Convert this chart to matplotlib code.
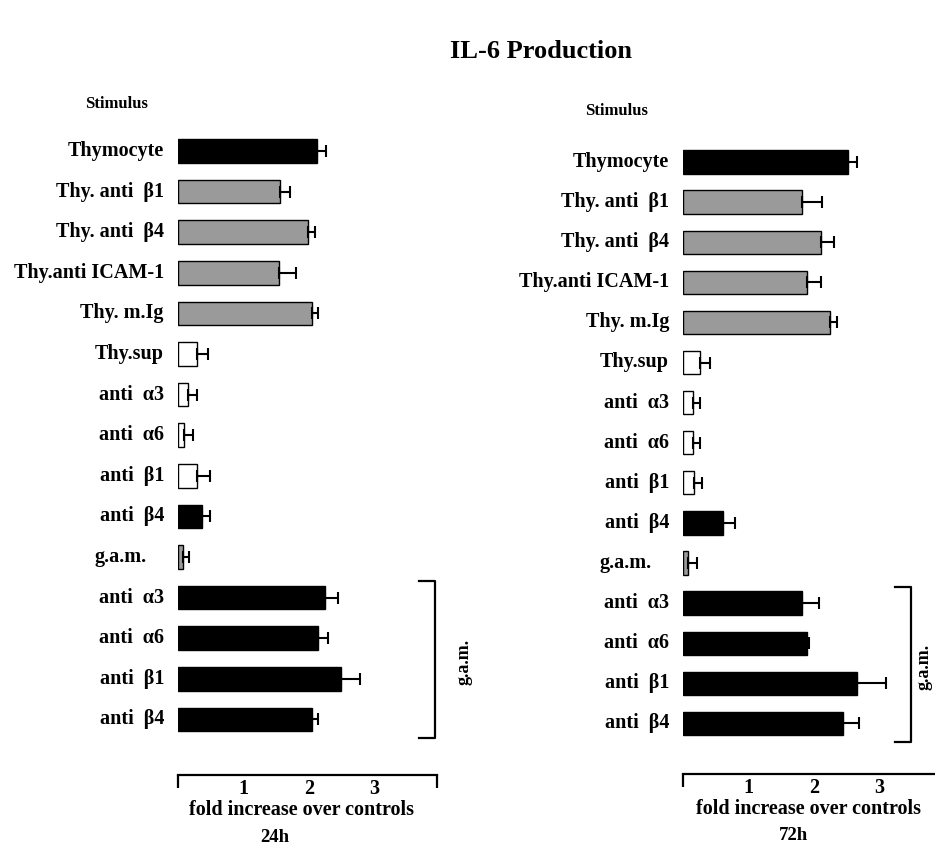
import numpy as np
import matplotlib
matplotlib.use("Agg")
import matplotlib.pyplot as plt

plt.rcParams['font.family'] = ['Liberation Serif', 'DejaVu Serif']
plt.rcParams['font.weight'] = 'bold'

# stimulus rows (top to bottom)
stimuli = ['Thymocyte', 'Thy. anti  \u03b21', 'Thy. anti  \u03b24', 'Thy.anti ICAM-1',
           'Thy. m.Ig', 'Thy.sup', 'anti  \u03b13', 'anti  \u03b16', 'anti  \u03b21',
           'anti  \u03b24', 'g.a.m.', 'anti  \u03b13', 'anti  \u03b16', 'anti  \u03b21',
           'anti  \u03b24']
# kind of stimulus, used for the bar fill
kinds = ['thy', 'thy_ab', 'thy_ab', 'thy_ab', 'thy_ab', 'sup', 'ab', 'ab', 'ab',
         'ab_b4', 'gam', 'ab_gam', 'ab_gam', 'ab_gam', 'ab_gam']
# rows cross-linked with g.a.m.
gam_rows = [11, 12, 13, 14]

# fold increase over controls, 24h
fold_24h = [2.12, 1.56, 1.98, 1.54, 2.04, 0.29, 0.15, 0.09, 0.29, 0.37, 0.07,
            2.24, 2.14, 2.49, 2.04]
err_24h = [0.14, 0.15, 0.11, 0.26, 0.10, 0.17, 0.14, 0.14, 0.20, 0.12, 0.10,
           0.20, 0.15, 0.29, 0.10]
# fold increase over controls, 72h
fold_72h = [2.52, 1.82, 2.11, 1.90, 2.24, 0.26, 0.15, 0.15, 0.17, 0.61, 0.08,
            1.82, 1.89, 2.66, 2.44]
err_72h = [0.14, 0.30, 0.20, 0.20, 0.11, 0.15, 0.11, 0.11, 0.12, 0.18, 0.13,
           0.26, 0.03, 0.44, 0.25]

fill = {'thy': 'black', 'thy_ab': '#9a9a9a', 'sup': 'white', 'ab': 'white',
        'ab_b4': 'black', 'gam': '#9a9a9a', 'ab_gam': 'black'}

W, H = 935, 848
fig = plt.figure(figsize=(W / 100, H / 100), dpi=100)


def make_panel(values, errs, x0, row0, dy, line_y, x_end, unit,
               gam_x, gam_off, xlab_x, time_label, time_x, stim_xy):
    # everything below is laid out in pixels of the reference
    xmax = (x_end - x0) / unit
    ybot = (line_y - row0) / dy
    ytop = -(row0 - 131) / dy
    ax = fig.add_axes([x0 / W, 1 - line_y / H, (x_end - x0) / W, (line_y - 131) / H])
    ax.set_xlim(0, xmax)
    ax.set_ylim(ybot, ytop)
    rows = np.arange(len(values))
    colors = [fill[k] for k in kinds]
    ax.barh(rows, values, height=0.58, color=colors, edgecolor='black', linewidth=1.0)
    ax.errorbar(values, rows, xerr=[np.zeros(len(errs)), errs], fmt='none',
                ecolor='black', elinewidth=1.5, capsize=4.5, capthick=1.5)

    for r, lab in zip(rows, stimuli):
        off = -31 if lab == 'g.a.m.' else -14
        ax.annotate(lab, xy=(0, r), xytext=(off, 0), textcoords='offset pixels',
                    ha='right', va='center', fontsize=14.5, fontweight='bold',
                    annotation_clip=False)

    # bracket around the g.a.m. cross-linked rows
    ya, yb = gam_rows[0] - 0.41, gam_rows[-1] + 0.47
    xa, xb = gam_x - 0.24, gam_x
    ax.plot([xa, xb, xb, xa], [ya, ya, yb, yb], color='black', lw=1.6, clip_on=False)
    ax.text(gam_x + gam_off, (ya + yb) / 2 + 0.05, 'g.a.m.', rotation=90,
            ha='center', va='center', fontsize=13, fontweight='bold', clip_on=False)

    for s in ['top', 'right', 'left']:
        ax.spines[s].set_visible(False)
    ax.spines['bottom'].set_linewidth(1.6)
    ax.set_yticks([])
    ax.set_xticks([1, 2, 3])
    ax.set_xticklabels(['1', '2', '3'], fontsize=14.5, fontweight='bold')
    ax.tick_params(axis='x', which='major', length=0, pad=3)
    ax.set_xticks([0, xmax], minor=True)
    ax.tick_params(axis='x', which='minor', length=9.5, width=1.6, direction='out')

    ax.annotate('fold increase over controls', xy=(xlab_x, 0),
                xycoords=('data', 'axes fraction'), xytext=(0, -35),
                textcoords='offset pixels', ha='center', va='center',
                fontsize=14.5, fontweight='bold', annotation_clip=False)
    ax.annotate(time_label, xy=(time_x, 0), xycoords=('data', 'axes fraction'),
                xytext=(0, -62), textcoords='offset pixels', ha='center', va='center',
                fontsize=13.5, fontweight='bold', annotation_clip=False)
    fig.text(stim_xy[0] / W, 1 - stim_xy[1] / H, 'Stimulus', ha='center', va='center',
             fontsize=12, fontweight='bold')
    return ax


ax1 = make_panel(fold_24h, err_24h, 178, 151, 40.6, 775, 437, 65.5,
                 3.92, 0.45, 1.89, '24h', 1.48, (116, 104))
ax2 = make_panel(fold_72h, err_72h, 683, 162, 40.1, 774, 942, 65.5,
                 3.48, 0.20, 1.92, '72h', 1.68, (617, 111))

fig.text(541 / W, 1 - 52 / H, 'IL-6 Production', ha='center', va='center',
         fontsize=19, fontweight='bold')

fig.savefig('out.png', dpi=100)
